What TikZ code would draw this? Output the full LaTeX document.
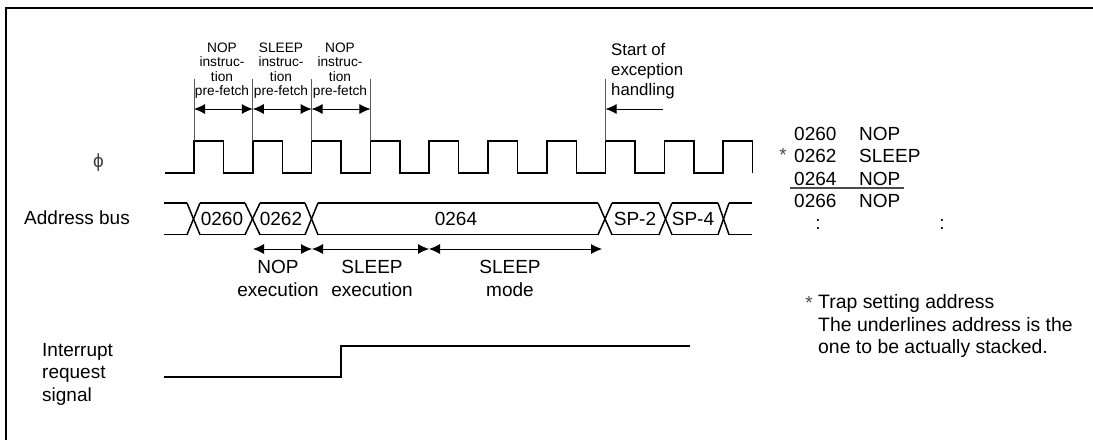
\documentclass[tikz,border=0pt]{standalone}
\usepackage{fontspec}
\setmainfont{Liberation Sans}
\usetikzlibrary{arrows.meta}

\begin{document}
\begin{tikzpicture}[x=1pt,y=-1pt,>={Latex[length=11pt,width=10pt]},
      wave/.style={line width=1.5pt},
      guide/.style={line width=0.8pt,black!65},
      dim/.style={<->,line width=0.8pt},
      small/.style={font=\fontsize{13.7}{14.3}\selectfont,align=center,inner sep=0pt},
      label/.style={font=\fontsize{19}{22.5}\selectfont,align=center,inner sep=0pt},
      note/.style={font=\fontsize{19.4}{22.8}\selectfont,align=left,inner sep=0pt},
      exclabel/.style={font=\fontsize{16.8}{20}\selectfont,align=left,inner sep=0pt}]
      \useasboundingbox (0,0) rectangle (1093,440);
      % frame
      \draw[line width=2pt] (6,440)--(6,8)--(1093,8);
      % clock
      \draw[wave] (165,173)
        \foreach \r in {194,252.8,311.6,370.4,429.2,488,546.8,605.6,664.4,723.2} {
          --(\r,173)--(\r,141)--(\r+29.5,141)--(\r+29.5,173) };
      \node[label,black!75] (phi) at (98.5,163) {ϕ};
      % instruction fetch
      \foreach \n/\x in {g1/194,g2/252.8,g3/311.6,g4/370.4,g5/605.6} {
        \coordinate (\n) at (\x,79);
        \coordinate (\n f) at (\x,141);
        \coordinate (\n m) at (\x,109);
        \draw[guide] (\n)--(\n f);
      }
      \draw[dim] (g1m)--(g2m);
      \draw[dim] (g2m)--(g3m);
      \draw[dim] (g3m)--(g4m);
      \node[small] (fa) at (222,70.5) {NOP\\instruc-\\tion\\pre-fetch};
      \node[small] (fb) at (281,70.5) {SLEEP\\instruc-\\tion\\pre-fetch};
      \node[small] (fc) at (340,70.5) {NOP\\instruc-\\tion\\pre-fetch};
      \node[exclabel,anchor=west] (exc) at (611,71) {Start of\\exception\\handling};
      \coordinate (excEnd) at (663,109);
      \draw[->,line width=0.8pt] (excEnd)--(g5m);
      % address bus
      \foreach \a/\b in {164/187,200/245,260/305,318/598,612/659,672/718,729/752} {
        \draw[wave] (\a,203)--(\b,203);
        \draw[wave] (\a,234.7)--(\b,234.7);
      }
      \foreach \a/\b in {187/200,245/260,305/318,598/612,659/672,718/729} {
        \draw[wave] (\a,203)--(\b,234.7);
        \draw[wave] (\a,234.7)--(\b,203);
      }
      \node[label,anchor=west] (bus) at (24,218) {Address bus};
      \node[label] (a0) at (222,219) {0260};
      \node[label] (a1) at (281,219) {0262};
      \node[label] (a2) at (456,219) {0264};
      \node[label] (a3) at (635,219) {SP-2};
      \node[label] (a4) at (693,219) {SP-4};
      % execution
      \coordinate (e0) at (253,249);
      \coordinate (e1) at (312,249);
      \coordinate (e2) at (429,249);
      \coordinate (e3) at (602,249);
      \draw[dim] (e0)--(e1);
      \draw[dim] (e1)--(e2);
      \draw[dim] (e2)--(e3);
      \node[label] (ea) at (278,278.5) {NOP\\execution};
      \node[label] (eb) at (372,278.5) {SLEEP\\execution};
      \node[label] (ec) at (510,278.5) {SLEEP\\mode};
      % interrupt
      \draw[wave] (164,377)--(341,377)--(341,346)--(690,346);
      \node[label,align=left,anchor=west] (irq) at (42,374) {Interrupt\\request\\signal};
      % program
      \foreach \n/\y/\ad/\op in {p0/134/0260/NOP,p1/156/0262/SLEEP,p2/179/0264/NOP,p3/201/0266/NOP} {
        \node[label,anchor=west] (\n) at (794,\y) {\ad};
        \node[label,anchor=west] (\n o) at (859,\y) {\op};
      }
      \node[label,black!70] (star) at (783,155) {*};
      \coordinate (ulA) at (790,188);
      \coordinate (ulB) at (904,188);
      \draw[line width=1.2pt,black!70] (ulA)--(ulB);
      \node[label] (da) at (818,224) {:};
      \node[label] (db) at (942,224) {:};
      % note
      \node[label,black!70] (nstar) at (809,303) {*};
      \node[note,anchor=west] (tn) at (818,326) {Trap setting address\\The underlines address is the\\one to be actually stacked.};
    \end{tikzpicture}
\end{document}
